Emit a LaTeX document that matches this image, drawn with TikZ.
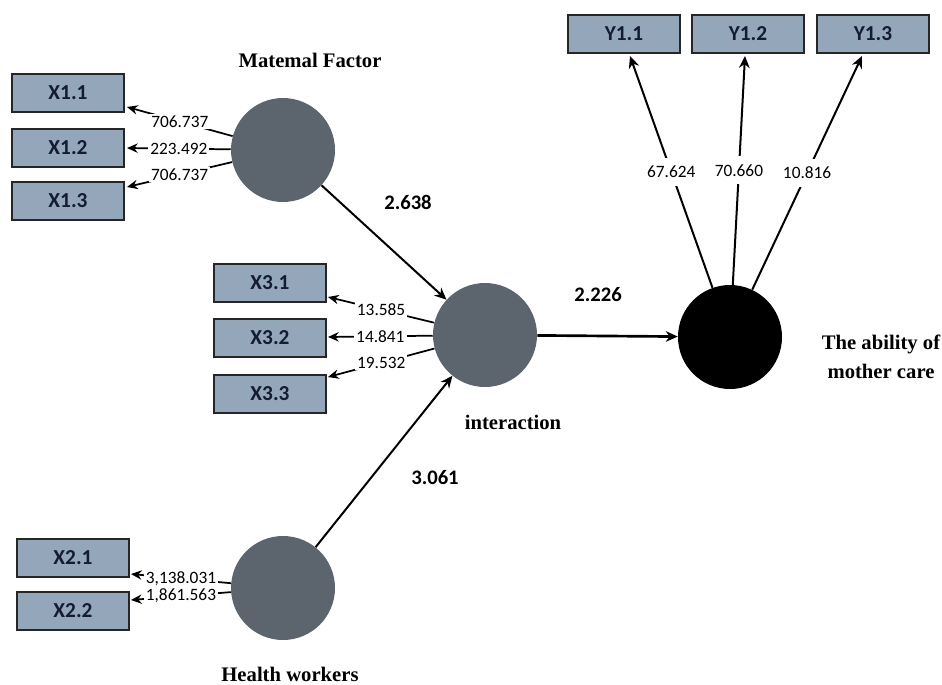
\documentclass[tikz,border=0pt]{standalone}
\usepackage{fontspec}
\setmainfont{Liberation Serif}
\newfontfamily\numfont{Carlito}
\usetikzlibrary{arrows.meta}
\definecolor{boxfill}{RGB}{148,166,186}
\definecolor{boxtext}{RGB}{20,28,50}
\definecolor{latent}{RGB}{92,100,110}
\begin{document}
\begin{tikzpicture}[x=0.75pt,y=-0.75pt,
  ind/.style={draw=black!85, line width=1.4pt, fill=boxfill, minimum width=84pt, minimum height=28pt, inner sep=0pt,
    font=\numfont\bfseries\fontsize{16}{16}\selectfont, text=boxtext},
  lat/.style={circle, fill=latent, minimum size=78pt, inner sep=0pt},
  ld/.style={font=\numfont\fontsize{13}{13}\selectfont, fill=white, inner sep=1.5pt},
  pl/.style={font=\numfont\bfseries\fontsize{15.5}{16}\selectfont},
  ttl/.style={font=\bfseries\fontsize{15.5}{22}\selectfont, align=center},
  arr/.style={-{Stealth[length=9pt,width=8pt]}, line width=1.5pt},
  larr/.style={-{Stealth[length=8pt,width=7pt]}, line width=1.3pt}
]
\useasboundingbox (0,0) rectangle (942,685);

% latent variables
\node[lat] (mf) at (283,150) {};
\node[lat] (int) at (485,335) {};
\node[lat] (hw) at (283,588) {};
\node[lat, fill=black] (ab) at (730,337) {};

% titles
\node[ttl] (tmf) at (310,60) {Matemal Factor};
\node[ttl] (tint) at (513,422) {interaction};
\node[ttl] (thw) at (290,674) {Health workers};
\node[ttl] (tab) at (881,357) {The ability of\\mother care};

% indicators
\node[ind] (x11) at (68,93) {X1.1};
\node[ind] (x12) at (68,148) {X1.2};
\node[ind] (x13) at (68,201) {X1.3};
\node[ind] (x31) at (270,283) {X3.1};
\node[ind] (x32) at (270,338) {X3.2};
\node[ind] (x33) at (270,394) {X3.3};
\node[ind] (x21) at (73,558) {X2.1};
\node[ind] (x22) at (73,611) {X2.2};
\node[ind] (y11) at (624,34) {Y1.1};
\node[ind] (y12) at (748,34) {Y1.2};
\node[ind] (y13) at (873,34) {Y1.3};

% loading end points
\coordinate (e11) at (127,107);
\coordinate (e12) at (127,148);
\coordinate (e13) at (127,187);
\coordinate (e31) at (328,297);
\coordinate (e32) at (328,337);
\coordinate (e33) at (328,377);
\coordinate (e21) at (131,574);
\coordinate (e22) at (131,600);
\coordinate (f11) at (630,56);
\coordinate (f12) at (745,56);
\coordinate (f13) at (862,56);

% loadings
\draw[larr] (mf) -- node[ld]{706.737} (e11);
\draw[larr] (mf) -- node[ld]{223.492} (e12);
\draw[larr] (mf) -- node[ld]{706.737} (e13);
\draw[larr] (int) -- node[ld]{13.585} (e31);
\draw[larr] (int) -- node[ld]{14.841} (e32);
\draw[larr] (int) -- node[ld]{19.532} (e33);
\draw[larr] (hw) -- node[ld]{3,138.031} (e21);
\draw[larr] (hw) -- node[ld]{1,861.563} (e22);
\draw[arr] (ab) -- node[ld, inner sep=6pt]{67.624} (f11);
\draw[arr] (ab) -- node[ld, inner sep=6pt]{70.660} (f12);
\draw[arr] (ab) -- node[ld, inner sep=6pt]{10.816} (f13);

% paths
\draw[arr] (mf) -- (int);
\draw[arr] (hw) -- (int);
\draw[arr, line width=2pt] (int) -- (ab);
\node[pl] (p1) at (408,202) {2.638};
\node[pl] (p2) at (435,478) {3.061};
\node[pl] (p3) at (598,295) {2.226};
\end{tikzpicture}
\end{document}
